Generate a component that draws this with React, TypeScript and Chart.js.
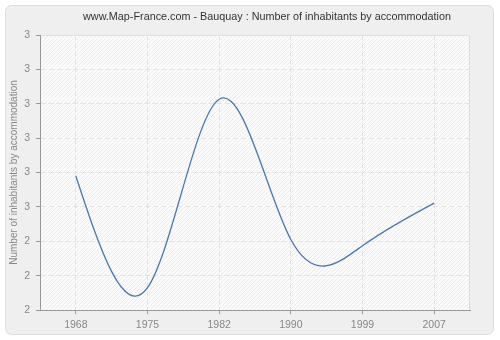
import React, { useEffect, useRef } from "react";
import { Chart, registerables } from "chart.js";

Chart.register(...registerables);

const years: string[] = ["1968", "1975", "1982", "1990", "1999", "2007"];
const inhabitantsPerHousing: number[] = [2.59, 2.265, 2.813, 2.405, 2.387, 2.511];
const yMin = 2.2;
const yMax = 3.0;
const yStep = 0.1;
const titleText = "www.Map-France.com - Bauquay : Number of inhabitants by accommodation";
const yAxisTitle = "Number of inhabitants by accommodation";

const FONT = "'Liberation Sans', Arial, sans-serif";

function makePattern(ctx: CanvasRenderingContext2D): CanvasPattern | string {
  const c = document.createElement("canvas");
  c.width = 8;
  c.height = 8;
  const p = c.getContext("2d");
  if (!p) return "#fafafa";
  p.fillStyle = "#fbfbfb";
  p.fillRect(0, 0, 8, 8);
  p.strokeStyle = "#ececec";
  p.lineWidth = 1;
  for (let k = -8; k <= 16; k += 4) {
    p.beginPath();
    p.moveTo(k, 8);
    p.lineTo(k + 8, 0);
    p.stroke();
  }
  return ctx.createPattern(c, "repeat") || "#fafafa";
}

function roundRectPath(ctx: CanvasRenderingContext2D, x: number, y: number, w: number, h: number, r: number) {
  ctx.beginPath();
  ctx.moveTo(x + r, y);
  ctx.lineTo(x + w - r, y);
  ctx.arcTo(x + w, y, x + w, y + r, r);
  ctx.lineTo(x + w, y + h - r);
  ctx.arcTo(x + w, y + h, x + w - r, y + h, r);
  ctx.lineTo(x + r, y + h);
  ctx.arcTo(x, y + h, x, y + h - r, r);
  ctx.lineTo(x, y + r);
  ctx.arcTo(x, y, x + r, y, r);
  ctx.closePath();
}

const backgroundPlugin = {
  id: "panelBackground",
  beforeDraw(chart: any) {
    const ctx: CanvasRenderingContext2D = chart.ctx;
    const { left, top, right, bottom } = chart.chartArea;
    ctx.save();
    ctx.fillStyle = "#ffffff";
    ctx.fillRect(0, 0, chart.width, chart.height);
    roundRectPath(ctx, 5.5, 5.5, 488, 329, 6);
    ctx.fillStyle = "#efefef";
    ctx.fill();
    ctx.strokeStyle = "#dcdcdc";
    ctx.lineWidth = 1;
    ctx.stroke();
    ctx.fillStyle = makePattern(ctx) as any;
    ctx.fillRect(left, top, right - left, bottom - top);
    ctx.strokeStyle = "#dddddd";
    ctx.beginPath();
    ctx.moveTo(left, top + 0.5);
    ctx.lineTo(right - 0.5, top + 0.5);
    ctx.lineTo(right - 0.5, bottom);
    ctx.stroke();
    ctx.fillStyle = "#333333";
    ctx.font = `10.8px ${FONT}`;
    ctx.textAlign = "center";
    ctx.textBaseline = "middle";
    ctx.fillText(titleText, 267, 17);
    ctx.restore();
  },
};

// Draws the dataset as a natural cubic spline through the points the library placed.
const splinePlugin = {
  id: "naturalSpline",
  afterDatasetsDraw(chart: any) {
    const meta = chart.getDatasetMeta(0);
    const pts = meta.data.map((e: any) => ({ x: e.x, y: e.y }));
    const n = pts.length - 1;
    if (n < 1) return;
    const h: number[] = [];
    for (let i = 0; i < n; i++) h.push(pts[i + 1].x - pts[i].x);
    const M = new Array(n + 1).fill(0);
    if (n > 1) {
      const a: number[] = [], b: number[] = [], c: number[] = [], d: number[] = [];
      for (let i = 1; i < n; i++) {
        a.push(h[i - 1]);
        b.push(2 * (h[i - 1] + h[i]));
        c.push(h[i]);
        d.push(6 * ((pts[i + 1].y - pts[i].y) / h[i] - (pts[i].y - pts[i - 1].y) / h[i - 1]));
      }
      const m = b.length;
      for (let i = 1; i < m; i++) {
        const w = a[i] / b[i - 1];
        b[i] -= w * c[i - 1];
        d[i] -= w * d[i - 1];
      }
      const sol = new Array(m).fill(0);
      sol[m - 1] = d[m - 1] / b[m - 1];
      for (let i = m - 2; i >= 0; i--) sol[i] = (d[i] - c[i] * sol[i + 1]) / b[i];
      for (let i = 1; i < n; i++) M[i] = sol[i - 1];
    }
    const ctx: CanvasRenderingContext2D = chart.ctx;
    const ds = chart.data.datasets[0];
    ctx.save();
    const area = chart.chartArea;
    ctx.beginPath();
    ctx.rect(area.left, area.top, area.right - area.left, area.bottom - area.top);
    ctx.clip();
    ctx.strokeStyle = ds.splineColor;
    ctx.lineWidth = ds.splineWidth;
    ctx.lineJoin = "round";
    ctx.beginPath();
    ctx.moveTo(pts[0].x, pts[0].y);
    for (let i = 0; i < n; i++) {
      const hi = h[i];
      const s = (pts[i + 1].y - pts[i].y) / hi;
      const m0 = s - (hi * (2 * M[i] + M[i + 1])) / 6;
      const m1 = s + (hi * (M[i] + 2 * M[i + 1])) / 6;
      ctx.bezierCurveTo(
        pts[i].x + hi / 3,
        pts[i].y + (m0 * hi) / 3,
        pts[i + 1].x - hi / 3,
        pts[i + 1].y - (m1 * hi) / 3,
        pts[i + 1].x,
        pts[i + 1].y
      );
    }
    ctx.stroke();
    ctx.restore();
  },
};

export default function App() {
  const ref = useRef<HTMLCanvasElement | null>(null);

  useEffect(() => {
    if (!ref.current) return;
    const chart = new Chart(ref.current, {
      type: "line",
      data: {
        labels: years,
        datasets: [
          {
            data: inhabitantsPerHousing,
            showLine: false,
            pointRadius: 0,
            borderColor: "#4a78b0",
            splineColor: "#4a78b0",
            splineWidth: 1.3,
          },
        ],
      },
      options: {
        responsive: false,
        animation: false,
        devicePixelRatio: 1,
        layout: { padding: { left: 0, top: 35, right: 30, bottom: 0 } },
        plugins: {
          legend: { display: false },
          title: { display: false },
          tooltip: { enabled: false },
        },
        scales: {
          x: {
            type: "category",
            offset: true,
            afterFit: (s: any) => {
              s.height = 30;
            },
            grid: {
              offset: false,
              color: "#e2e2e2",
              lineWidth: 1,
              drawTicks: true,
              tickLength: 4,
              tickColor: "#999999",
              tickBorderDash: [],
            },
            border: { display: true, color: "#999999", width: 1, dash: [5, 3] },
            ticks: {
              color: "#888888",
              font: { family: FONT, size: 10.5 },
              padding: 5,
              maxRotation: 0,
            },
          },
          y: {
            type: "linear",
            min: yMin,
            max: yMax,
            afterFit: (s: any) => {
              s.width = 40;
            },
            grid: {
              color: "#e2e2e2",
              lineWidth: 1,
              drawTicks: true,
              tickLength: 4,
              tickColor: "#999999",
              tickBorderDash: [],
            },
            border: { display: true, color: "#999999", width: 1, dash: [5, 3] },
            ticks: {
              stepSize: yStep,
              color: "#888888",
              font: { family: FONT, size: 10.5 },
              padding: 6,
              callback: (v: any) => String(Math.round(Number(v))),
            },
            title: {
              display: true,
              text: yAxisTitle,
              color: "#888888",
              font: { family: FONT, size: 10 },
              padding: { top: 8, bottom: 0 },
            },
          },
        },
      },
      plugins: [backgroundPlugin, splinePlugin],
    } as any);
    return () => chart.destroy();
  }, []);

  return (
    <div style={{ position: "fixed", left: 0, top: 0, width: 500, height: 340 }}>
      <canvas ref={ref} width={500} height={340} style={{ display: "block", width: 500, height: 340 }} />
    </div>
  );
}
